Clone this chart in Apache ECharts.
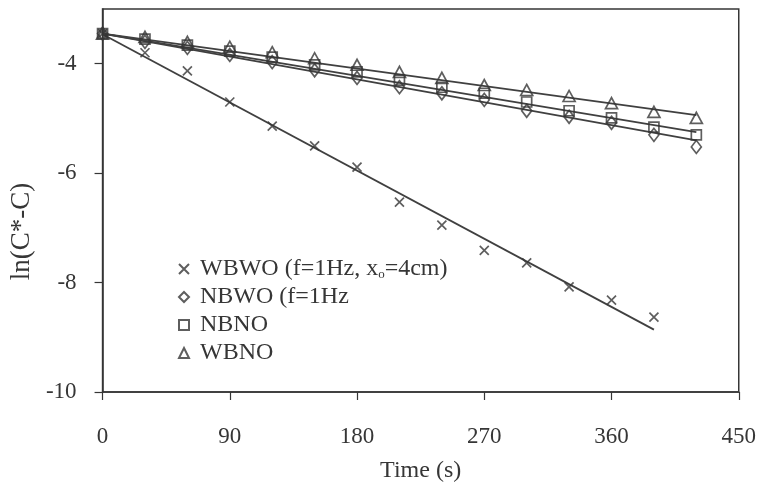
<!DOCTYPE html>
<html>
<head>
<meta charset="utf-8">
<script src="https://cdn.jsdelivr.net/npm/echarts@6/dist/echarts.min.js"></script>
<style>
html,body{margin:0;padding:0;background:#fff;}
#chart{width:759px;height:494px;}
</style>
</head>
<body>
<div id="chart"></div>
<script>
// Time (s)
var times = [0, 30, 60, 90, 120, 150, 180, 210, 240, 270, 300, 330, 360, 390, 420];
// ln(C*-C) observations
var wbwo = [-3.45, -3.80, -4.13, -4.70, -5.14, -5.50, -5.89, -6.53, -6.95, -7.41, -7.64, -8.08, -8.32, -8.63];
var nbwo = [-3.45, -3.60, -3.71, -3.84, -3.97, -4.12, -4.26, -4.43, -4.54, -4.66, -4.86, -4.97, -5.08, -5.30, -5.52];
var nbno = [-3.45, -3.55, -3.66, -3.77, -3.88, -4.02, -4.15, -4.30, -4.43, -4.54, -4.70, -4.86, -4.99, -5.16, -5.30];
var wbno = [-3.45, -3.51, -3.60, -3.69, -3.79, -3.90, -4.02, -4.15, -4.26, -4.39, -4.48, -4.59, -4.72, -4.88, -4.99];
// fitted straight lines: [t, value] endpoints
var wbwoFit = [[0, -3.46], [390, -8.86]];
var nbwoFit = [[0, -3.45], [420, -5.40]];
var nbnoFit = [[0, -3.45], [420, -5.25]];
var wbnoFit = [[0, -3.45], [420, -4.94]];
// axis ticks
var xTicks = [0, 90, 180, 270, 360, 450];
var yTicks = [-10, -8, -6, -4];
var names = ['WBWO (f=1Hz, xo=4cm)', 'NBWO (f=1Hz', 'NBNO', 'WBNO'];

var ink = '#363636';
var font = 'Liberation Serif, Times New Roman, serif';

function pairs(vals) {
  return vals.map(function (v, i) { return [times[i], v]; });
}
function scatter(name, vals, symbol, size) {
  return {
    type: 'scatter', name: name, data: pairs(vals), symbol: symbol, symbolSize: size,
    symbolKeepAspect: true,
    itemStyle: { color: 'transparent', borderColor: ink, borderWidth: 1.7 },
    z: 3
  };
}
function fit(name, pts) {
  return {
    type: 'line', name: name, data: pts, showSymbol: false, symbol: 'none',
    lineStyle: { color: '#404040', width: 1.8 }, silent: true, z: 2
  };
}

var chart = echarts.init(document.getElementById('chart'), null, { renderer: 'canvas' });
chart.setOption({
  animation: false,
  backgroundColor: '#fff',
  grid: { left: 102, right: 18, top: 9, bottom: 102, show: true, borderColor: ink, borderWidth: 1.5 },
  legend: {
    data: names,
    orient: 'vertical',
    left: 173, top: 252,
    itemWidth: 10, itemHeight: 10, itemGap: 4,
    textStyle: {
      fontFamily: font, fontSize: 24, color: ink, padding: [0, 0, 0, 6],
      rich: {
        a: { fontFamily: font, fontSize: 24, color: ink },
        s: { fontFamily: font, fontSize: 13, color: ink, verticalAlign: 'bottom', padding: [10, 0, 0, 0] }
      }
    },
    formatter: function (n) {
      if (n === names[0]) return '{a|WBWO (f=1Hz, x}{s|o}{a|=4cm)}';
      return n;
    }
  },
  xAxis: {
    type: 'value', min: 0, max: 450, interval: 90,
    name: 'Time (s)', nameLocation: 'middle', nameGap: 67,
    nameTextStyle: { fontFamily: font, fontSize: 24, color: ink },
    axisLine: { lineStyle: { color: ink, width: 1.5 } },
    axisTick: { show: true, length: 8, lineStyle: { color: ink, width: 1.2 }, customValues: xTicks },
    axisLabel: { margin: 33, fontFamily: font, fontSize: 23, color: ink, customValues: xTicks },
    splitLine: { show: false }
  },
  yAxis: {
    type: 'value', min: -10, max: -3, interval: 2,
    name: 'ln(C*-C)', nameLocation: 'middle', nameGap: 64,
    nameTextStyle: { fontFamily: font, fontSize: 27, color: ink, padding: [0, 62, 0, 0] },
    axisLine: { lineStyle: { color: ink, width: 1.5 } },
    axisTick: { show: true, length: 8, lineStyle: { color: ink, width: 1.2 }, customValues: yTicks },
    axisLabel: { margin: 26, fontFamily: font, fontSize: 23, color: ink, customValues: yTicks },
    splitLine: { show: false }
  },
  series: [
    fit('WBWO fit', wbwoFit),
    fit('NBWO fit', nbwoFit),
    fit('NBNO fit', nbnoFit),
    fit('WBNO fit', wbnoFit),
    scatter(names[0], wbwo, 'path://M0,0L10,10M10,0L0,10', 9),
    scatter(names[1], nbwo, 'diamond', [10, 13]),
    scatter(names[2], nbno, 'rect', 10),
    scatter(names[3], wbno, 'triangle', [12, 11])
  ]
});
</script>
</body>
</html>
